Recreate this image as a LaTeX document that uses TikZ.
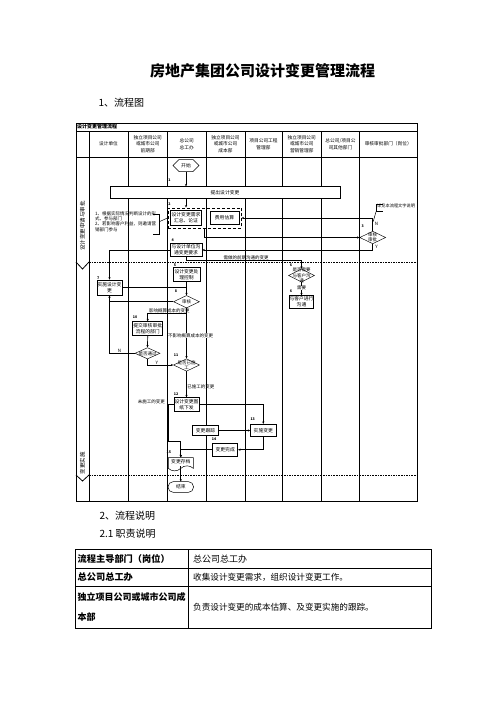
\documentclass[tikz,border=0pt]{standalone}
\usepackage{fontspec}
\setmainfont{Noto Sans CJK SC}
\usetikzlibrary{arrows.meta,calc,fit,shapes.geometric,shapes.symbols}

\begin{document}
\begin{tikzpicture}[
  x=1pt,y=-1pt,font=\fontsize{4.8}{5.8}\selectfont,
  frame/.style={draw,line width=.8pt},
  proc/.style={draw,line width=.8pt,fill=white,align=center,inner sep=0pt,
    minimum width=25pt,minimum height=12.5pt},
  decision/.style={draw,diamond,line width=.45pt,inner sep=0pt,
    minimum width=26pt,minimum height=12.5pt},
  dtext/.style={align=center,inner sep=0pt,font=\fontsize{4.5}{5.2}\selectfont},
  flow/.style={draw,line width=.7pt,-{Stealth[length=2.4pt,width=2.2pt]}},
  link/.style={draw,line width=.7pt},
  num/.style={inner sep=0pt,font=\fontsize{3.6}{4}\selectfont\bfseries},
  cond/.style={inner sep=.4pt,font=\fontsize{4.5}{5}\selectfont},
  head/.style={align=center,font=\fontsize{4.7}{6.5}\selectfont},
  note/.style={align=left,inner sep=0pt,font=\fontsize{4.5}{5.4}\selectfont},
  phaseline/.style={draw,line width=.7pt,dash pattern=on 1.6pt off 1pt},
  cell/.style={anchor=west,inner sep=0pt,font=\fontsize{9}{20}\selectfont}
]
\useasboundingbox (0,0) rectangle (496,702);

% document headings
\node[font=\fontsize{15}{16}\selectfont\bfseries] (title) at (262.5,71) {房地产集团公司设计变更管理流程};
\node[anchor=west,font=\fontsize{10}{11}\selectfont] (secone) at (95,103) {1、流程图};

% swimlane frame
\draw[frame] (76,123) rectangle (417,501);
\draw[frame] (76,131) -- (417,131);
\draw[frame] (76,157) -- (417,157);
\foreach \cx in {89,128,167.5,206,245,282,321.5,359.5}
  \draw[frame] (\cx,131) -- (\cx,501);
\node[anchor=west,inner sep=0pt,font=\fontsize{5}{6}\selectfont\bfseries] (flowname) at (77,127) {设计变更管理流程};

\node[head] (hdesign) at (108.5,144) {设计单位};
\node[head] (hplan) at (147.75,144) {独立项目公司\\或城市公司\\前期部};
\node[head] (hchief) at (186.75,144) {总公司\\总工办};
\node[head] (hcost) at (225.5,144) {独立项目公司\\或城市公司\\成本部};
\node[head] (hproj) at (263.5,144) {项目公司工程\\管理部};
\node[head] (hsales) at (301.75,144) {独立项目公司\\或城市公司\\营销管理部};
\node[head] (hother) at (340.5,144) {总公司/项目公\\司其他部门};
\node[head] (happrove) at (388.25,144) {审核审批部门（岗位）};

% phases
\draw[frame] (76,262) -- (82.5,269) -- (89,262);
\draw[phaseline] (89,262) -- (417,262);
\draw[frame] (76,475) -- (82.5,481) -- (89,475);
\draw[phaseline] (89,475) -- (417,475);
\node[rotate=90,inner sep=0pt,font=\fontsize{5.5}{6}\selectfont] (phaseone) at (82.5,226) {设计变更申请与审批};
\node[rotate=90,inner sep=0pt,font=\fontsize{5.5}{6}\selectfont] (phasetwo) at (82.5,463) {变更实施};

% request and approval
\node[signal,signal to=west and east,draw,line width=.5pt,inner sep=0pt,
  minimum width=26pt,minimum height=12pt] (start) at (186,165.5) {开始};
\node[proc,minimum width=230pt,minimum height=11.6pt] (propose) at (225,192.5) {提出设计变更};
\draw[flow] (start.south) -- (start.south |- propose.north);
\node[num] (n1) at (169.5,180) {1};

\node[proc,minimum width=31.7pt,minimum height=15.7pt] (collect) at (186,218) {设计变更需求\\汇总、论证};
\node[proc,minimum width=29pt,minimum height=12.6pt] (estimate) at (224.5,218) {费用估算};
\node[draw,line width=.9pt,densely dashed,inner sep=1.8pt,fit=(collect)(estimate)] (group) {};
\draw[flow] (start.south |- propose.south) -- (start.south |- group.north);
\node[num] (n2) at (169.5,204.3) {2};

\node[note,anchor=west] (scope) at (95,221.5) {1、根据实际情况判断设计的形\\式、参与部门\\2、若影响客户利益，则邀请营\\销部门参与};
\draw[link,line width=.5pt] (153.3,214) -- (159.3,214) -- (159.3,234.3) -- (153.3,234.3);
\coordinate (scopetip) at (159.3,221.7);
\draw[link,line width=.5pt] (scopetip) -- (group.west);

\node[decision,label={[dtext]center:审核\\审批}] (audit) at (372.7,237.5) {};
\node[num] (n3) at (362.7,226) {3};
\draw[flow] (group.south) |- (audit.west);
\draw[flow] (audit.north) |- (group.east);
\node[cond] (auditno) at (376.5,224) {N};
\node[cond] (audityes) at (376.5,246.5) {Y};
\node[note,anchor=west,font=\fontsize{4.2}{5}\selectfont] (remark) at (377,206) {详见本流程文字说明};
\draw[link,line width=.5pt] (383,204.3) -- (376,204.3) -- (376,211.7) -- (383,211.7);
\coordinate (remarktip) at (376,211.7);
\coordinate (remarkend) at (373.2,221.5);
\draw[link,line width=.5pt] (remarktip) -- (remarkend);

\node[proc,minimum width=32pt,minimum height=13.7pt] (talk) at (186,250) {与设计单位沟\\通变更要求};
\node[num] (n4) at (172.7,240) {4};
\draw[flow] (audit.south) |- (talk.east);

\node[decision,minimum width=26pt,minimum height=13pt,label={[dtext]center:是否需要\\与客户沟\\通}] (ask) at (301.5,275.5) {};
\node[num] (n6a) at (291,265.5) {6};
\draw[flow] (talk.south) -- ++(0,3.5) -| node[cond,above,pos=.26] {需做的前期沟通的变更} (ask.north);
\node[proc,minimum width=24.7pt,minimum height=12.6pt] (client) at (301.5,302) {与客户进行\\沟通};
\node[num] (n6b) at (291,291.5) {6};
\draw[flow] (ask.south) -- node[cond,fill=white,pos=.45] {需要} (client.north);

% design handling and review
\node[proc,minimum width=27pt,minimum height=13.5pt] (control) at (186.5,274.3) {设计变更处\\理控制};
\node[num] (n5) at (175,265.7) {5};
\node[proc,minimum width=25pt,minimum height=15pt] (design) at (109.5,287.5) {实施设计变\\更};
\node[num] (n7) at (98.3,277.7) {7};
\draw[flow] (talk.west) -| (design.north);

\node[decision,label={[dtext]center:审核}] (review) at (186.5,301.7) {};
\node[num] (n8) at (176,291) {8};
\draw[link] (control.south) -- (review.north);
\draw[flow] (design.east) -| (review.north);

\node[proc,minimum width=30pt,minimum height=13.3pt] (submit) at (147.7,328.3) {提交审核审批\\流程的部门};
\node[num] (n10) at (135,316.7) {10};
\draw[flow] ($(review.south)+(0,5)$) -| node[cond,above,pos=.22] {影响概算成本的变更} (submit.north);

\node[decision,minimum width=25pt,minimum height=11.3pt,label={[dtext]center:是否通过}] (pass) at (147.5,353.3) {};
\draw[flow] (submit.south) -- (pass.north);
\draw[flow] (pass.west) -| node[cond,above,pos=.3] {N} (design.south);
\draw[link] (review.west) -- (review.west -| design.south);

\node[decision,label={[dtext]center:是否已施\\工}] (built) at (186.5,365) {};
\node[num] (n11) at (176,355.5) {11};
\draw[flow] (review.south) -- node[cond,fill=white,pos=.55,xshift=4pt] {不影响概算成本的变更} (built.north);
\draw[flow] (pass.south) |- node[cond,above,pos=.68] {Y} (built.west);

% implementation
\node[proc,minimum width=25pt,minimum height=14pt] (issue) at (186.5,404.7) {设计变更图\\纸下发};
\node[num] (n12) at (176,394) {12};
\draw[flow] (built.south) -- node[cond,right,pos=.6] {已施工的变更} (issue.north);

\node[proc,minimum width=25.3pt,minimum height=12.4pt] (implement) at (263.3,430.5) {实施变更};
\node[num] (n13) at (252.7,419) {13};
\node[proc,minimum width=25.6pt,minimum height=9.3pt] (track) at (205.5,430.5) {变更跟踪};
\draw[flow] (issue.east) -| (implement.north);
\draw[flow] (track.east) -- (implement.west);

\node[proc,minimum width=25pt,minimum height=12.7pt] (finish) at (225.2,449.7) {变更完成};
\node[num] (n14) at (214,439) {14};
\draw[flow] (implement.south) |- (finish.east);

\node[tape,tape bend top=none,draw,line width=.5pt,inner sep=0pt,
  minimum width=25pt,minimum height=13.3pt] (archive) at (180.8,461.7) {变更存档};
\node[num] (n15) at (168.8,452.3) {15};
\coordinate (skip) at (180.8,441);
\draw[flow] (finish.west) -| (archive.north);
\draw[flow] (issue.west) -- ++(-5,0) node[cond,anchor=south east,xshift=-3pt] {未施工的变更} |- (skip) -- (archive.north);

\node[draw,rounded corners=5pt,line width=.5pt,inner sep=0pt,
  minimum width=25.4pt,minimum height=10.6pt] (stop) at (180.8,487) {结束};
\draw[flow] (archive.south) -- (stop.north);

% responsibilities
\node[anchor=west,font=\fontsize{10}{11}\selectfont] (sectwo) at (96,516) {2、流程说明};
\node[anchor=west,font=\fontsize{10}{11}\selectfont] (secduty) at (96,534) {2.1 职责说明};
\draw[line width=.9pt] (75,549.3) rectangle (431.7,628.3);
\draw[line width=.9pt] (75,568.3) -- (431.7,568.3);
\draw[line width=.9pt] (75,586) -- (431.7,586);
\draw[line width=.9pt] (188.3,549.3) -- (188.3,628.3);
\node[cell,font=\fontsize{9.2}{20}\selectfont\bfseries] (lead) at (77.5,559) {流程主导部门（岗位）};
\node[cell] (leadval) at (193,559) {总公司总工办};
\node[cell,font=\fontsize{9.2}{20}\selectfont\bfseries] (chief) at (77.5,577.2) {总公司总工办};
\node[cell,font=\fontsize{8.6}{20}\selectfont] (chiefval) at (193,577.2) {收集设计变更需求，组织设计变更工作。};
\node[cell,align=left,font=\fontsize{9}{20}\selectfont\bfseries] (cost) at (77.5,607) {独立项目公司或城市公司成\\本部};
\node[cell,font=\fontsize{8.6}{20}\selectfont] (costval) at (193,607) {负责设计变更的成本估算、及变更实施的跟踪。};
\end{tikzpicture}
\end{document}
